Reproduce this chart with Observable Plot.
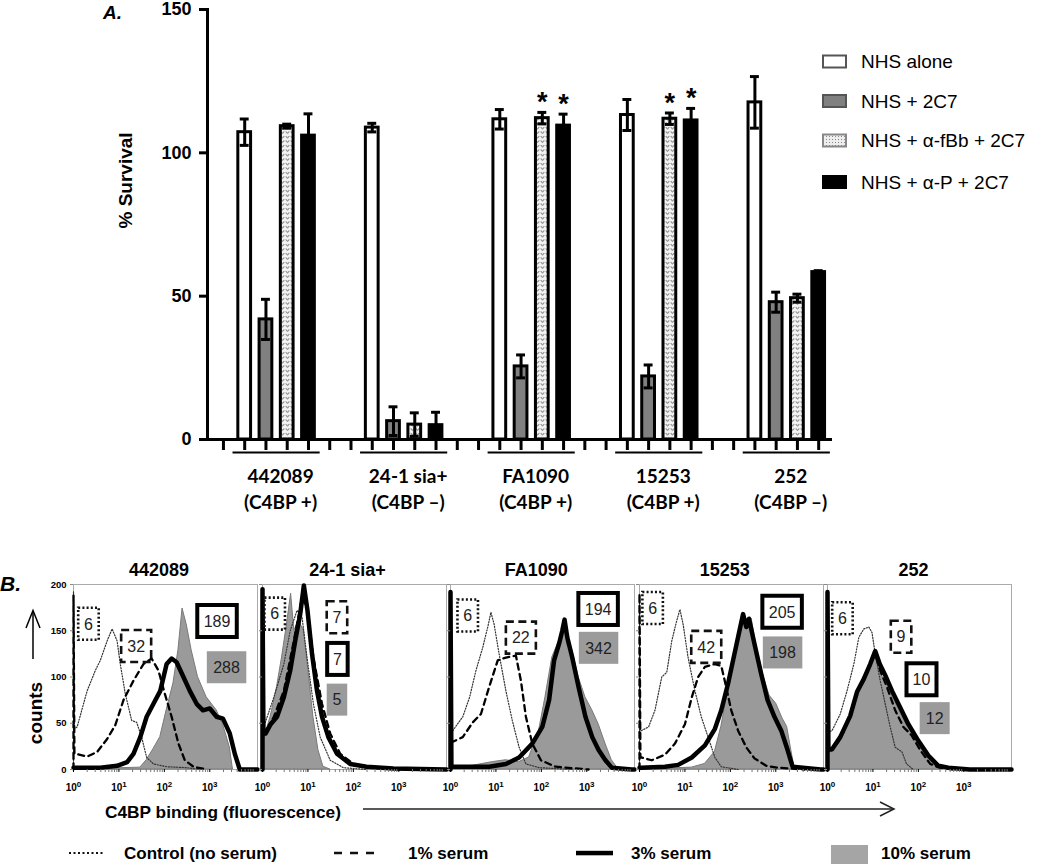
<!DOCTYPE html>
<html><head><meta charset="utf-8">
<script src="https://cdn.jsdelivr.net/npm/d3@7"></script>
<script src="https://cdn.jsdelivr.net/npm/@observablehq/plot@0.6"></script>
<style>
body{margin:0;background:#fff;}
#root{position:relative;width:1050px;height:864px;overflow:hidden;background:#fff;font-family:"Liberation Sans",Arial,sans-serif;}
#root svg{position:absolute;max-width:none;}
</style></head><body><div id="root"></div>
<script>
// ---------------- Panel A data ----------------
const strains = ["442089", "24-1 sia+", "FA1090", "15253", "252"];
const c4bpStatus = ["(C4BP +)", "(C4BP \u2013)", "(C4BP +)", "(C4BP +)", "(C4BP \u2013)"];
const treatments = ["NHS alone", "NHS + 2C7", "NHS + \u03b1-fBb + 2C7", "NHS + \u03b1-P + 2C7"];
const survivalMean = [
  [107.2, 41.9, 109.3, 106.0],
  [108.8, 6.4, 5.2, 5.0],
  [111.7, 25.5, 112.1, 109.5],
  [113.2, 22.0, 111.9, 111.3],
  [117.6, 47.9, 49.3, 58.4]
];
const survivalErr = [
  [4.6, 7.0, 0.7, 7.6],
  [1.5, 5.0, 4.1, 4.5],
  [3.4, 4.0, 2.0, 4.0],
  [5.4, 4.0, 2.0, 4.2],
  [9.0, 3.5, 1.4, 0.5]
];
const significant = [
  [0, 0, 0, 0],
  [0, 0, 0, 0],
  [0, 0, 1, 1],
  [0, 0, 1, 1],
  [0, 0, 0, 0]
];
const survivalTicks = [0, 50, 100, 150];

// ---------------- Panel B data ([log10 fluorescence, counts]) ----------------
const conditions = ["Control (no serum)", "1% serum", "3% serum", "10% serum"];
const histControl = [
  [[0,0],[0,192],[0.02,44],[0.08,46],[0.30,85],[0.48,107],[0.59,118],[0.74,139],[0.85,152],[0.96,139],[1.03,114],[1.14,82],[1.28,53],[1.39,51],[1.50,35],[1.61,13],[1.76,6],[2.05,3],[2.49,2],[2.78,0]],
  [[0,42],[0.25,78],[0.47,114],[0.61,150],[0.76,172],[0.87,165],[0.98,121],[1.12,71],[1.27,35],[1.49,10],[1.78,2],[2.29,0]],
  [[0,40],[0.05,42],[0.27,57],[0.42,78],[0.56,107],[0.71,132],[0.82,154],[0.89,170],[0.96,157],[1.07,125],[1.22,85],[1.36,53],[1.51,24],[1.66,6],[1.95,2],[2.68,0]],
  [[0,0],[0,190],[0.02,42],[0.04,42],[0.20,46],[0.34,64],[0.49,100],[0.60,105],[0.71,139],[0.82,161],[0.89,173],[0.96,157],[1.07,121],[1.22,85],[1.36,57],[1.51,35],[1.66,13],[1.80,3],[2.17,0]],
  [[0,40],[0.10,42],[0.28,60],[0.43,85],[0.58,114],[0.69,143],[0.80,152],[0.91,154],[0.98,148],[1.05,125],[1.16,96],[1.27,71],[1.38,46],[1.49,24],[1.64,19],[1.74,6],[1.89,0]]
];
const histSerum1 = [
  [[0,0],[0,188],[0.02,17],[0.04,17],[0.30,14],[0.52,19],[0.74,33],[0.92,48],[1.10,75],[1.32,96],[1.54,114],[1.72,120],[1.87,107],[2.01,82],[2.16,57],[2.31,28],[2.45,10],[2.64,3],[2.93,0]],
  [[0,35],[0.25,57],[0.47,85],[0.69,139],[0.87,186],[0.98,175],[1.12,121],[1.31,71],[1.49,39],[1.71,17],[2.00,6],[2.44,2],[3.02,0]],
  [[0,30],[0.05,30],[0.27,35],[0.49,51],[0.67,60],[0.85,89],[1.04,118],[1.22,121],[1.44,123],[1.55,96],[1.66,57],[1.80,28],[1.99,10],[2.31,3],[3.04,0]],
  [[0,0],[0,190],[0.02,13],[0.04,13],[0.27,10],[0.56,16],[0.78,28],[1.00,49],[1.15,78],[1.29,100],[1.44,111],[1.66,114],[1.80,112],[1.89,93],[2.02,64],[2.17,42],[2.35,24],[2.53,12],[2.79,4],[3.04,2],[3.63,0]],
  [[0,20],[0.10,21],[0.28,33],[0.50,57],[0.65,82],[0.80,100],[0.94,114],[1.05,125],[1.16,107],[1.31,89],[1.49,64],[1.67,46],[1.85,37],[2.04,21],[2.26,6],[2.47,2],[2.77,0]]
];
const histSerum3 = [
  [[0,2],[0.04,2],[0.59,2],[0.96,4],[1.18,8],[1.32,17],[1.47,35],[1.61,57],[1.76,71],[1.91,85],[2.05,114],[2.16,120],[2.27,116],[2.42,100],[2.56,85],[2.71,71],[2.85,64],[3.00,66],[3.15,57],[3.29,55],[3.44,39],[3.55,17],[3.66,0],[4.05,0]],
  [[0,0],[0,195],[0.02,42],[0.07,39],[0.18,49],[0.32,57],[0.47,78],[0.61,107],[0.72,139],[0.83,168],[0.91,199],[0.99,172],[1.09,125],[1.20,85],[1.31,57],[1.45,35],[1.64,17],[1.93,6],[2.29,3],[2.88,1],[4.05,0]],
  [[0,0],[0,192],[0.02,3],[0.85,3],[1.22,6],[1.51,13],[1.80,28],[2.02,46],[2.17,75],[2.28,118],[2.39,136],[2.46,150],[2.51,162],[2.57,143],[2.68,121],[2.82,89],[2.97,57],[3.12,35],[3.26,21],[3.41,10],[3.55,2],[3.99,0],[4.05,0]],
  [[0,2],[0.04,2],[0.56,3],[0.85,5],[1.15,13],[1.44,26],[1.66,44],[1.80,64],[1.95,93],[2.09,125],[2.20,150],[2.28,168],[2.35,154],[2.41,163],[2.53,136],[2.68,103],[2.82,75],[2.97,57],[3.12,42],[3.26,21],[3.37,3],[3.99,0],[4.05,0]],
  [[0,0],[0,192],[0.02,22],[0.10,22],[0.28,35],[0.50,58],[0.65,84],[0.80,98],[0.94,114],[1.05,128],[1.15,114],[1.27,102],[1.42,85],[1.60,67],[1.78,49],[2.00,31],[2.22,15],[2.44,4],[2.66,2],[3.13,0],[4.05,0]]
];
const histSerum10 = [
  [[0,0],[1.47,2],[1.61,10],[1.76,22],[1.91,35],[2.05,64],[2.20,93],[2.31,129],[2.40,174],[2.49,157],[2.60,129],[2.74,100],[2.93,78],[3.15,64],[3.29,49],[3.44,24],[3.51,0]],
  [[0,28],[0.18,57],[0.32,89],[0.43,121],[0.53,154],[0.63,190],[0.70,150],[0.80,161],[0.91,150],[1.01,107],[1.12,57],[1.23,21],[1.34,3],[1.49,0]],
  [[0,2],[0.49,4],[0.93,8],[1.22,10],[1.51,8],[1.73,13],[1.95,42],[2.09,78],[2.24,121],[2.39,139],[2.50,157],[2.57,134],[2.68,129],[2.82,100],[2.97,78],[3.12,64],[3.26,49],[3.41,28],[3.55,10],[3.70,0]],
  [[0,0],[1.15,2],[1.44,6],[1.66,19],[1.80,46],[1.95,85],[2.09,121],[2.20,147],[2.30,166],[2.39,156],[2.47,163],[2.57,134],[2.72,103],[2.86,80],[3.01,71],[3.15,55],[3.25,46],[3.34,21],[3.42,0]],
  [[0,17],[0.10,19],[0.28,31],[0.50,55],[0.65,76],[0.80,94],[0.94,109],[1.05,122],[1.16,105],[1.31,91],[1.53,69],[1.74,48],[1.96,30],[2.18,15],[2.36,4],[2.55,0]]
];
const mfiControl = [6, 6, 6, 6, 6];
const mfiSerum1 = [32, 7, 22, 42, 9];
const mfiSerum3 = [189, 7, 194, 205, 10];
const mfiSerum10 = [288, 5, 342, 198, 12];
const countTicks = [0, 50, 100, 150, 200];
const decadeTicks = [1, 10, 100, 1000];

// ---------------- layout (not data) ----------------
const FONT = '"Liberation Sans", Arial, sans-serif';
const mfiLabelAt = [ // [log10 x, count] position of each MFI box per strain
  [[0.34,157],[0.28,168],[0.39,166],[0.30,174],[0.34,163]],
  [[1.39,133],[1.65,164],[1.56,142],[1.48,132],[1.63,143]],
  [[3.17,160],[1.66,119],[3.26,173],[3.15,170],[2.08,97]],
  [[3.38,110],[1.65,75],[3.27,131],[3.16,126],[2.37,55]]
];

const root = document.getElementById("root");

// ================= Panel A =================
const slotOf = (g, s) => 1 + g * 6 + s;
const barRows = strains.flatMap((name, g) => treatments.map((t, s) => ({
  g, s, slot: slotOf(g, s), mean: survivalMean[g][s], err: survivalErr[g][s], sig: significant[g][s]
})));
const groupRows = strains.map((name, g) => ({name, status: c4bpStatus[g], first: slotOf(g, 0), last: slotOf(g, 3)}));
const barFills = ["white", "#808080", "url(#fbbDots)", "black"];

const panelA = Plot.plot({
  width: 1050, height: 515,
  marginLeft: 207, marginRight: 218, marginTop: 9, marginBottom: 76,
  x: {domain: [-0.75, 28.65], axis: null},
  y: {domain: [0, 150], axis: null},
  style: {background: "transparent", fontFamily: FONT, overflow: "visible", color: "black"},
  marks: [
    ...treatments.map((t, s) => Plot.rect(barRows.filter(d => d.s === s), {
      x1: d => d.slot - 0.3, x2: d => d.slot + 0.3, y1: 0, y2: "mean",
      fill: barFills[s], stroke: "black", strokeWidth: 3
    })),
    Plot.ruleX(barRows, {x: "slot", y1: d => d.mean - d.err, y2: d => d.mean + d.err, strokeWidth: 3}),
    Plot.ruleY(barRows, {y: d => d.mean + d.err, x1: d => d.slot - 0.21, x2: d => d.slot + 0.21, strokeWidth: 3}),
    Plot.ruleY(barRows, {y: d => d.mean - d.err, x1: d => d.slot - 0.21, x2: d => d.slot + 0.21, strokeWidth: 3}),
    Plot.text(barRows.filter(d => d.sig), {x: "slot", y: d => d.mean + d.err, text: () => "*", dy: -10, fontSize: 27, fontWeight: "bold"}),
    Plot.ruleY([0], {strokeWidth: 3}),
    Plot.frame({anchor: "left", strokeWidth: 3}),
    Plot.axisX(d3.range(0, 29), {anchor: "bottom", tickSize: 11, strokeWidth: 3, tickFormat: () => "", label: null}),
    Plot.axisY(survivalTicks, {anchor: "left", tickSize: 8, strokeWidth: 3, tickPadding: 8, fontSize: 18, fontWeight: "bold", label: null}),
    Plot.text(["% Survival"], {frameAnchor: "left", text: d => d, rotate: -90, dx: -82, dy: 4, fontSize: 19, fontWeight: "bold"}),
    Plot.ruleY(groupRows, {y: () => 0, x1: d => d.first - 0.55, x2: d => d.last + 0.55, dy: 13, strokeWidth: 2}),
    Plot.text(groupRows, {x: d => (d.first + d.last) / 2, frameAnchor: "bottom", lineAnchor: "middle",
      text: d => d.name + "\n" + d.status,
      dy: 48, dx: 4, lineHeight: 1.36, fontSize: 19, fontWeight: "bold", fontFamily: "Lato, 'Open Sans', sans-serif"})
  ]
});
// pattern for the dotted bars
{
  const defs = d3.select(panelA).insert("defs", ":first-child");
  const p = defs.append("pattern").attr("id", "fbbDots").attr("patternUnits", "userSpaceOnUse")
    .attr("width", 5).attr("height", 4.5);
  p.append("rect").attr("width", 5).attr("height", 4.5).attr("fill", "#f3f3f3");
  p.append("path").attr("d", "M0.8,1 L2.5,3 L4.2,1").attr("fill", "none").attr("stroke", "#555").attr("stroke-width", 0.9);
}
panelA.style.left = "0px"; panelA.style.top = "0px";
root.appendChild(panelA);

// ================= Panel B =================
const mfiSets = [mfiControl, mfiSerum1, mfiSerum3, mfiSerum10];
const minorTicks = d3.range(0, 4).flatMap(k => d3.range(2, 10).map(m => m * 10 ** k));
const PW = 184, PH = 185, mL = 40, mR = 6, mT = 6, mB = 30;
const panelLeft = i => 73 + 188.6 * i;

function boxStyle(sel, kind) {
  if (kind === 0) sel.attr("fill", "none").attr("stroke", "#111").attr("stroke-width", 2.6).attr("stroke-dasharray", "2,2.2");
  else if (kind === 1) sel.attr("fill", "none").attr("stroke", "#111").attr("stroke-width", 2.6).attr("stroke-dasharray", "8,4.5");
  else if (kind === 2) sel.attr("fill", "white").attr("stroke", "#000").attr("stroke-width", 4);
  else sel.attr("fill", "#9b9b9b").attr("stroke", "none");
}
function mfiBoxes(panel) {
  return (index, scales) => {
    const g = d3.create("svg:g");
    mfiSets.forEach((set, kind) => {
      const txt = String(set[panel]);
      const at = mfiLabelAt[kind][panel];
      const cx = scales.x(10 ** at[0]), cy = scales.y(at[1]);
      const w = 9.5 * txt.length + 11, h = 32;
      boxStyle(g.append("rect").attr("x", cx - w / 2).attr("y", cy - h / 2).attr("width", w).attr("height", h), kind);
      g.append("text").attr("x", cx).attr("y", cy).attr("dy", "0.36em").attr("text-anchor", "middle")
        .attr("font-size", 16).attr("fill", "#222").attr("font-family", FONT).text(txt);
    });
    return g.node();
  };
}
const px = d => 10 ** d[0], py = d => d[1];

strains.forEach((name, i) => {
  const svg = Plot.plot({
    width: PW + mL + mR, height: PH + mT + mB,
    marginLeft: mL, marginRight: mR, marginTop: mT, marginBottom: mB,
    x: {type: "log", domain: [1, 10 ** 4.05], axis: null},
    y: {domain: [0, 200], axis: null},
    style: {background: "transparent", fontFamily: FONT, overflow: "visible", color: "black"},
    marks: [
      Plot.frame({stroke: "#aaa", strokeWidth: 1}),
      Plot.areaY(histSerum10[i], {x: px, y1: 0, y2: py, fill: "#9a9a9a", stroke: "#7a7a7a", strokeWidth: 1}),
      Plot.line(histControl[i], {x: px, y: py, stroke: "#333", strokeWidth: 1.2, strokeDasharray: "1.2,1.6"}),
      Plot.line(histSerum1[i], {x: px, y: py, stroke: "black", strokeWidth: 2.3, strokeDasharray: "6,4.5"}),
      Plot.line(histSerum3[i], {x: px, y: py, stroke: "black", strokeWidth: 4.5, strokeLinejoin: "round"}),
      mfiBoxes(i),
      Plot.axisX(minorTicks, {anchor: "bottom", tickSize: 3, stroke: "#777", tickFormat: () => "", label: null}),
      Plot.axisX(decadeTicks, {anchor: "bottom", tickSize: 3, tickPadding: 11, fontSize: 10, fontWeight: "bold",
        tickFormat: d => "10^" + Math.round(Math.log10(d)), label: null}),
      Plot.axisY(countTicks, {anchor: "left", tickSize: 3, tickPadding: 4, fontSize: 9.5, fontWeight: "bold", stroke: "#888",
        tickFormat: i === 0 ? (d => String(d)) : (() => ""), label: null})
    ]
  });
  // render "10^k" tick labels with a real superscript
  d3.select(svg).selectAll("text").each(function () {
    const t = this.textContent;
    const m = /^10\^(\d)$/.exec(t);
    if (!m) return;
    const sel = d3.select(this);
    sel.text(null);
    sel.append("tspan").text("10");
    sel.append("tspan").attr("dy", "-0.5em").attr("font-size", "0.8em").text(m[1]);
  });
  svg.style.left = (panelLeft(i) - mL) + "px";
  svg.style.top = (584 - mT) + "px";
  root.appendChild(svg);
});

// ================= titles, legends, decorations =================
const ov = d3.select(root).append("svg").attr("width", 1050).attr("height", 864)
  .style("left", "0px").style("top", "0px").style("pointer-events", "none").attr("font-family", FONT);
const defs = ov.append("defs");
const lp = defs.append("pattern").attr("id", "legDots").attr("patternUnits", "userSpaceOnUse").attr("width", 3).attr("height", 3);
lp.append("rect").attr("width", 3).attr("height", 3).attr("fill", "#eee");
lp.append("rect").attr("x", 1).attr("y", 1).attr("width", 1).attr("height", 1).attr("fill", "#888");

ov.append("text").attr("x", 103).attr("y", 19).attr("font-size", 19).attr("font-weight", "bold").attr("font-style", "italic").text("A.");
ov.append("text").attr("x", 0).attr("y", 591).attr("font-size", 21).attr("font-weight", "bold").attr("font-style", "italic").text("B.");

// Panel A legend
const legFill = ["white", "#808080", "url(#legDots)", "black"];
const legStroke = ["#555", "#555", "#888", "black"];
const legY = [61.5, 101, 140.5, 182];
treatments.forEach((t, s) => {
  ov.append("rect").attr("x", 823).attr("y", legY[s] - 6).attr("width", 23).attr("height", 12)
    .attr("fill", legFill[s]).attr("stroke", legStroke[s]).attr("stroke-width", 2);
  ov.append("text").attr("x", 861).attr("y", legY[s]).attr("dy", "0.36em").attr("font-size", 19).text(t);
});

// Panel B strain titles
strains.forEach((name, i) => {
  ov.append("text").attr("x", panelLeft(i) + 86).attr("y", 570).attr("dy", "0.36em").attr("text-anchor", "middle")
    .attr("font-size", 18).attr("font-weight", "bold").text(name);
});

// counts label + arrow
ov.append("text").attr("transform", "translate(35,713) rotate(-90)").attr("text-anchor", "middle").attr("dy", "0.36em")
  .attr("font-size", 19).attr("font-weight", "bold").text("counts");
ov.append("line").attr("x1", 33).attr("x2", 33).attr("y1", 659).attr("y2", 611).attr("stroke", "black").attr("stroke-width", 1.5);
ov.append("polyline").attr("points", "26,628 33,610.5 40,628").attr("fill", "none").attr("stroke", "black").attr("stroke-width", 1.5);

// x title + arrow
ov.append("text").attr("x", 105).attr("y", 812).attr("dy", "0.36em").attr("font-size", 17.3).attr("font-weight", "bold").text("C4BP binding (fluorescence)");
ov.append("line").attr("x1", 363).attr("x2", 893).attr("y1", 809).attr("y2", 809).attr("stroke", "#222").attr("stroke-width", 1.5);
ov.append("polyline").attr("points", "880,802 894,809 880,816").attr("fill", "none").attr("stroke", "#222").attr("stroke-width", 1.5);

// bottom legend
const ly = 853;
ov.append("line").attr("x1", 69).attr("x2", 105).attr("y1", ly).attr("y2", ly).attr("stroke", "#111").attr("stroke-width", 2).attr("stroke-dasharray", "2,2.5");
ov.append("line").attr("x1", 334).attr("x2", 382).attr("y1", ly).attr("y2", ly).attr("stroke", "#111").attr("stroke-width", 2.5).attr("stroke-dasharray", "8,8");
ov.append("rect").attr("x", 576).attr("y", ly - 2.2).attr("width", 37).attr("height", 4.5).attr("fill", "black");
ov.append("rect").attr("x", 831).attr("y", 845).attr("width", 37).attr("height", 25).attr("fill", "#a5a5a5");
const legX = [124, 408, 631, 881];
conditions.forEach((c, j) => {
  ov.append("text").attr("x", legX[j]).attr("y", ly).attr("dy", "0.36em").attr("font-size", 17).attr("font-weight", "bold").text(c);
});
</script></body></html>
